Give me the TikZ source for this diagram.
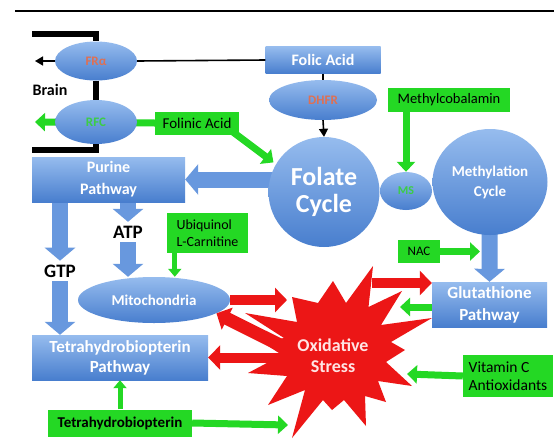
\documentclass[tikz,border=0pt]{standalone}
\usepackage{fontspec}
\setmainfont{Carlito}
\usetikzlibrary{shapes.geometric,arrows.meta,backgrounds,calc}

\definecolor{bluetop}{RGB}{150,188,238}
\definecolor{bluebot}{RGB}{72,126,206}
\definecolor{arrowblue}{RGB}{104,152,222}
\definecolor{leafgreen}{RGB}{36,216,36}
\definecolor{alarmred}{RGB}{236,22,22}
\definecolor{salmon}{RGB}{222,112,84}
\definecolor{labelgreen}{RGB}{60,205,70}
\definecolor{palepink}{RGB}{255,228,228}

\tikzset{
  fill blue/.style={top color=bluetop, bottom color=bluebot, draw=none},
  bluebox/.style={rectangle, fill blue, text=white, align=center, inner sep=0pt,
    font=\bfseries\fontsize{16}{21}\selectfont},
  blueoval/.style={ellipse, fill blue, inner sep=0pt, align=center},
  greenbox/.style={rectangle, fill=leafgreen, text=black, inner sep=0pt, align=left,
    font=\fontsize{14}{17}\selectfont},
  plainlabel/.style={text=black, inner sep=0pt, outer sep=4pt,
    font=\bfseries\fontsize{19}{22}\selectfont},
  greenarrow/.style={draw=leafgreen, line width=7pt, -{Triangle[width=18pt,length=10pt]}},
  slimgreen/.style={draw=leafgreen, line width=5pt, -{Triangle[width=13pt,length=8pt]}},
  redarrow/.style={draw=alarmred, line width=10pt, -{Triangle[width=24pt,length=12pt]}},
  bluearrow/.style={draw=arrowblue, line width=16pt, -{Triangle[width=30pt,length=13pt]}},
  blackline/.style={draw=black, line width=1.6pt},
  blackarrow/.style={blackline, -{Triangle[width=9pt,length=8pt]}},
  bracket/.style={draw=black, line width=6pt},
}

\begin{document}
\begin{tikzpicture}[x=1pt,y=-1pt]
\begin{scope}[on background layer]
  \fill[white] (0,0) rectangle (554,445);
\end{scope}
\useasboundingbox (0,0) rectangle (554,445);

% top rule
\coordinate (ruleL) at (15,11);
\coordinate (ruleR) at (554,11);
\draw[line width=1.6pt] (ruleL) -- (ruleR);

% folate and methylation cycles
\node[bluebox, minimum width=115pt, minimum height=27pt] (folic) at (323,60) {Folic Acid};
\node[blueoval, minimum width=108pt, minimum height=40pt, text=salmon,
  font=\bfseries\fontsize{13}{15}\selectfont] (dhfr) at (323,100) {DHFR};
\node[blueoval, minimum width=111pt, minimum height=110pt, text=white,
  font=\bfseries\fontsize{26}{27}\selectfont] (folate) at (324,192) {Folate\\Cycle};
\node[blueoval, minimum width=52pt, minimum height=38pt, text=labelgreen,
  font=\bfseries\fontsize{12}{14}\selectfont] (ms) at (406,191) {MS};
\node[blueoval, minimum width=115pt, minimum height=106pt, text=white,
  font=\bfseries\fontsize{15}{20}\selectfont] (meth) at (490,182) {Methylation\\Cycle};
\node[greenbox, minimum width=122pt, minimum height=24pt,
  font=\fontsize{14.5}{17}\selectfont] (mcb) at (449,100) {Methylcobalamin};

% brain transport
\node[blueoval, minimum width=82pt, minimum height=39pt, text=salmon,
  font=\bfseries\fontsize{13}{15}\selectfont] (fra) at (96,61) {FRα};
\node[blueoval, minimum width=82pt, minimum height=44pt, text=labelgreen,
  font=\bfseries\fontsize{13}{15}\selectfont] (rfc) at (96,122) {RFC};
\node[greenbox, minimum width=84pt, minimum height=23pt,
  font=\fontsize{15}{17}\selectfont] (folinic) at (197,123) {Folinic Acid};
\node[plainlabel, font=\bfseries\fontsize{16}{18}\selectfont] (brain) at (50,90) {Brain};
\coordinate (fraout) at (35,61);
\coordinate (rfcout) at (35,122);
\coordinate (brTL) at (32,34);
\coordinate (brBL) at (32,150);

% purine and pterin pathways
\node[bluebox, minimum width=153pt, minimum height=45pt,
  font=\bfseries\fontsize{16}{22}\selectfont] (purine) at (108.5,179.5) {Purine\\Pathway};
\node[plainlabel] (atp) at (128,232) {ATP};
\node[plainlabel] (gtp) at (60,271) {GTP};
\node[greenbox, minimum width=81pt, minimum height=40pt,
  font=\fontsize{14}{17}\selectfont] (ubiq) at (207.5,233) {Ubiquinol\\L-Carnitine};
\node[blueoval, minimum width=152pt, minimum height=46pt, text=white,
  font=\bfseries\fontsize{15}{18}\selectfont] (mito) at (154,300) {Mitochondria};
\node[bluebox, minimum width=176pt, minimum height=45pt,
  font=\bfseries\fontsize{17}{20}\selectfont] (tetra) at (120,357.5) {Tetrahydrobiopterin\\Pathway};
\node[greenbox, minimum width=144pt, minimum height=27pt,
  font=\bfseries\fontsize{15}{17}\selectfont] (bh4) at (120,423) {Tetrahydrobiopterin};
\coordinate (ubqout) at ($(ubiq.south west)+(8,0)$);

% glutathione side
\node[greenbox, minimum width=42pt, minimum height=23pt,
  font=\fontsize{13}{15}\selectfont] (nac) at (419,251.5) {NAC};
\node[bluebox, minimum width=115pt, minimum height=45pt,
  font=\bfseries\fontsize{17}{22}\selectfont] (glut) at (489.5,304.5) {Glutathione\\Pathway};
\node[greenbox, minimum width=90pt, minimum height=42pt,
  font=\fontsize{15.5}{18}\selectfont] (vitc) at (508,376) {Vitamin C\\Antioxidants};
\coordinate (nacend) at (480,251.5);

% block arrows tucked under the shapes
\begin{scope}[on background layer]
  \draw[bluearrow] (folate.center |- purine.east) -- (purine.east);
  \draw[bluearrow] (atp |- purine.center) -- (atp.north);
  \draw[bluearrow] (gtp |- purine.center) -- (gtp.north);
  \draw[bluearrow] (meth.center) -- (glut.north);
  \draw[greenarrow] (folinic.west) -- (rfcout);
  \draw[greenarrow, shorten >=3pt] ($(folinic.south east)+(-8,-4)$) -- (folate.150);
\end{scope}

\draw[bluearrow] (atp.south) -- (atp |- mito.north);
\draw[bluearrow] (gtp.south) -- (gtp |- tetra.north);

% black connectors
\draw[blackline] (folic.west) -- (fra.east);
\draw[blackarrow] (fra.west) -- (fraout);
\draw[blackline] (folic.south) -- (dhfr.north);
\draw[blackarrow] (dhfr.south) -- (folate.north);

% brain barrier
\draw[bracket] (brTL) -- (brTL -| fra.north) -- (fra.north);
\draw[bracket] (fra.south) -- (rfc.north);
\draw[bracket] (rfc.south) -- (brBL -| rfc.south) -- (brBL);

% supplements
\draw[greenarrow] (mcb.south -| ms.north) -- (ms.north);
\draw[slimgreen] (ubqout) -- (ubqout |- mito.north);
\draw[slimgreen] (bh4.north) -- (tetra.south);
\draw[greenarrow] (nac.east) -- (nacend);

% oxidative stress burst
\coordinate (burst) at (337,352);
\fill[alarmred] (373,266) -- (368.5,307) -- (402,291) -- (381,325) -- (432,318)
  -- (391,342) -- (405,350) -- (386,362) -- (412,386) -- (378,381) -- (386,402)
  -- (365,396) -- (366,426) -- (344,400) -- (332,410) -- (323,400) -- (292,438)
  -- (305,390) -- (268,405) -- (287,376) -- (248,373) -- (282,355) -- (262,342)
  -- (284,338) -- (245,313) -- (297,322) -- (292,297) -- (318,303) -- (333,281)
  -- (346,303) -- cycle;
\coordinate (sMito) at (287,300);
\coordinate (sDiag) at (280,345);
\coordinate (sTetra) at (290,357.5);
\coordinate (sGlutOut) at (372,283);
\coordinate (sGlutIn) at (400,307);
\coordinate (sVit) at (407,374);
\coordinate (sBH4) at (288,425);

\draw[redarrow] (mito.east) -- (sMito);
\draw[redarrow, line width=13pt] (sDiag) -- (mito.348);
\draw[redarrow] (sTetra) -- (tetra.east);
\draw[redarrow] (sGlutOut) -- (glut.west |- sGlutOut);
\draw[greenarrow] (glut.west |- sGlutIn) -- (sGlutIn);
\draw[greenarrow] (vitc.west) -- (sVit);
\draw[greenarrow] (bh4.east) -- (sBH4);

\node[text=palepink, align=center, font=\bfseries\fontsize{18}{21}\selectfont] (ox)
  at (333,356) {Oxidative\\Stress};
\end{tikzpicture}
\end{document}
